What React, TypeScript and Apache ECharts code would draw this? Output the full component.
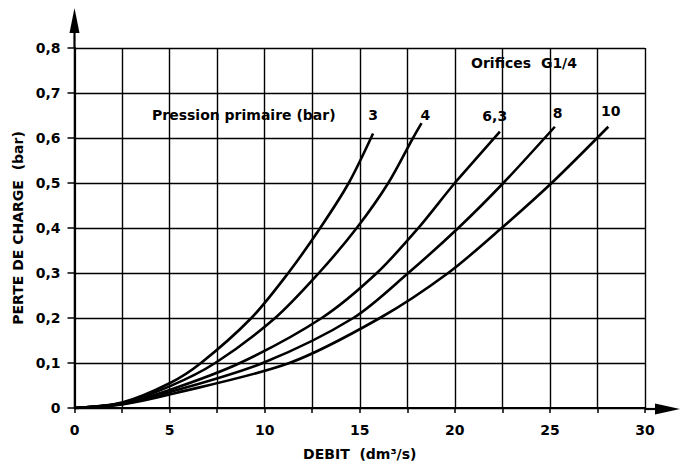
import React, { useEffect, useRef } from "react";
import * as echarts from "echarts";

const seriesNames = ["3", "4", "6,3", "8", "10"];
const curve3 = [[0, 0], [2.5, 0.012], [5, 0.055], [6.65, 0.1], [9.3, 0.2], [11.24, 0.3], [12.92, 0.4], [14.42, 0.5], [15.7, 0.61]];
const curve4 = [[0, 0], [2.5, 0.011], [5, 0.048], [7.4, 0.1], [10.55, 0.2], [12.85, 0.3], [14.84, 0.4], [16.5, 0.5], [17.8, 0.6], [18.25, 0.633]];
const curve63 = [[0, 0], [2.5, 0.01], [5, 0.04], [8.7, 0.1], [13.0, 0.2], [15.9, 0.3], [18.08, 0.4], [20.0, 0.5], [22.37, 0.614]];
const curve8 = [[0, 0], [2.5, 0.009], [5, 0.035], [9.9, 0.1], [14.66, 0.2], [17.55, 0.3], [20.18, 0.4], [22.55, 0.5], [25.26, 0.625]];
const curve10 = [[0, 0], [2.5, 0.008], [5, 0.03], [11.3, 0.1], [16.06, 0.2], [19.65, 0.3], [22.46, 0.4], [25.09, 0.5], [28.07, 0.625]];
const curves = [curve3, curve4, curve63, curve8, curve10];
const labelPositions = [[15.7, 0.652], [18.45, 0.652], [22.1, 0.65], [25.4, 0.656], [28.2, 0.66]];

const xTitle = "DEBIT  (dm³/s)";
const yTitle = "PERTE DE CHARGE  (bar)";
const legendTitle = "Pression primaire (bar)";
const boxTitle = "Orifices  G1/4";

const FONT = "'DejaVu Sans', Arial, sans-serif";
const FS = 14;

export default function App() {
  const ref = useRef<HTMLDivElement>(null);
  useEffect(() => {
    const chart = echarts.init(ref.current!, null, { renderer: "svg" });
    const lineSeries = curves.map((c, i) => ({
      type: "line",
      name: seriesNames[i],
      data: c,
      smooth: 0.3,
      symbol: "none",
      lineStyle: { color: "#000", width: 2.6 },
      z: 5,
    }));
    const baseGraphic: any[] = [
      { type: "line", shape: { x1: 645, y1: 409, x2: 660, y2: 409 }, style: { stroke: "#000", lineWidth: 2.2 } },
      { type: "polygon", shape: { points: [[655, 403.5], [680, 409], [655, 414.5]] }, style: { fill: "#000" } },
      { type: "line", shape: { x1: 74.5, y1: 48, x2: 74.5, y2: 30 }, style: { stroke: "#000", lineWidth: 2.2 } },
      { type: "polygon", shape: { points: [[69.5, 33], [74.5, 8], [79.5, 33]] }, style: { fill: "#000" } },
      {
        type: "text",
        x: 152,
        y: 115,
        style: { text: legendTitle, fill: "#000", font: `bold ${FS}px ${FONT}`, verticalAlign: "middle", textAlign: "left" },
        z: 10,
      },
      {
        type: "text",
        x: 524,
        y: 63,
        style: { text: boxTitle, fill: "#000", font: `bold ${FS}px ${FONT}`, verticalAlign: "middle", textAlign: "center" },
        z: 10,
      },
    ];
    chart.setOption({
      animation: false,
      backgroundColor: "#fff",
      grid: { left: 74.5, right: 36, top: 48, bottom: 57 },
      xAxis: {
        type: "value",
        min: 0,
        max: 30,
        interval: 2.5,
        name: xTitle,
        nameLocation: "middle",
        nameGap: 39,
        nameTextStyle: { color: "#000", fontFamily: FONT, fontWeight: "bold", fontSize: FS },
        axisLine: { lineStyle: { color: "#000", width: 2.2 } },
        axisTick: { show: true, length: 5, lineStyle: { color: "#000", width: 1.5 } },
        axisLabel: {
          margin: 15,
          color: "#000",
          fontFamily: FONT,
          fontWeight: "bold",
          fontSize: FS,
          formatter: (v: number) => (v % 5 === 0 ? String(v) : ""),
        },
        splitLine: { show: true, lineStyle: { color: "#000", width: 1.4 } },
      },
      yAxis: {
        type: "value",
        min: 0,
        max: 0.8,
        interval: 0.1,
        name: yTitle,
        nameLocation: "middle",
        nameGap: 50,
        nameRotate: 90,
        nameTextStyle: { color: "#000", fontFamily: FONT, fontWeight: "bold", fontSize: FS },
        axisLine: { show: true, lineStyle: { color: "#000", width: 2.2 } },
        axisTick: { show: true, length: 7, lineStyle: { color: "#000", width: 1.5 } },
        axisLabel: {
          margin: 14,
          color: "#000",
          fontFamily: FONT,
          fontWeight: "bold",
          fontSize: FS,
          formatter: (v: number) => (v === 0 ? "0" : v.toFixed(1).replace(".", ",")),
        },
        splitLine: { show: true, lineStyle: { color: "#000", width: 1.4 } },
      },
      graphic: baseGraphic,
      series: lineSeries,
    });
    const labelGraphic = labelPositions.map((p, i) => {
      const [px, py] = chart.convertToPixel({ gridIndex: 0 }, p) as number[];
      return {
        type: "text",
        x: px,
        y: py,
        style: {
          text: seriesNames[i],
          fill: "#000",
          font: `bold ${FS}px ${FONT}`,
          verticalAlign: "middle",
          textAlign: "center",
        },
        z: 10,
      };
    });
    chart.setOption({ graphic: [...baseGraphic, ...labelGraphic] });
    return () => chart.dispose();
  }, []);
  return <div ref={ref} style={{ position: "fixed", left: 0, top: 0, width: 681, height: 466 }} />;
}
